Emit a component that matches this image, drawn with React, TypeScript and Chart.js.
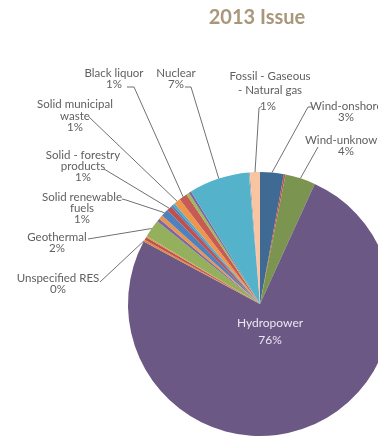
import React, { useEffect, useRef } from "react";
import { Chart, registerables } from "chart.js";

Chart.register(...registerables);

const TITLE = "2013 Issue";

const categories = [
  "Wind-onshore",
  "Wind-offshore",
  "Wind-unknown",
  "Hydropower",
  "Unspecified RES",
  "Biogas",
  "Solar",
  "Geothermal",
  "Tide",
  "Solid - agricultural",
  "Solid renewable fuels",
  "Solid - forestry products",
  "Liquid renewable fuels",
  "Landfill gas",
  "Solid municipal waste",
  "Black liquor",
  "Sewage gas",
  "Marine",
  "Nuclear",
  "Fossil - other",
  "Fossil - Gaseous - Natural gas",
];

const shares = [
  2.9, 0.2, 3.7, 76.0, 0.25, 0.35, 0.15, 2.2, 0.4, 0.5, 0.9, 0.65, 0.25, 0.3,
  0.8, 1.0, 0.35, 0.3, 7.4, 0.15, 1.2,
];

const colors = [
  "#3e6a94",
  "#c0504d",
  "#7b9550",
  "#6c5885",
  "#d98a47",
  "#c0504d",
  "#e0904a",
  "#94b05c",
  "#7e65a3",
  "#e8954f",
  "#4f81bd",
  "#c0504d",
  "#4f81bd",
  "#4bacc6",
  "#f0954c",
  "#c65a55",
  "#9bbb59",
  "#8064a2",
  "#55b2cb",
  "#a8a8a8",
  "#f8c4a2",
];

// label layout (text positions and leader-line start points)
type TL = [string, number, number, CanvasTextAlign];
const labelLayout: { name: string; lines: TL[]; path: number[][]; inside?: boolean }[] = [
  { name: "Black liquor", lines: [["Black liquor", 114, 73, "center"], ["%", 114, 84, "center"]], path: [[127, 87], [134, 87]] },
  { name: "Nuclear", lines: [["Nuclear", 176, 73, "center"], ["%", 176, 84, "center"]], path: [[185, 87], [191, 87]] },
  { name: "Fossil - Gaseous - Natural gas", lines: [["Fossil - Gaseous", 270, 76, "center"], ["- Natural gas", 270, 90, "center"], ["%", 268, 106, "center"]], path: [[262, 106], [259, 108]] },
  { name: "Wind-onshore", lines: [["Wind-onshore", 310, 106, "left"], ["%", 346, 117, "center"]], path: [[312, 107], [308, 107]] },
  { name: "Wind-unknown", lines: [["Wind-unknown", 305, 140, "left"], ["%", 346, 151, "center"]], path: [[318, 147]] },
  { name: "Solid municipal waste", lines: [["Solid municipal", 75, 104, "center"], ["waste", 75, 116, "center"], ["%", 75, 127, "center"]], path: [[89, 117]] },
  { name: "Solid - forestry products", lines: [["Solid - forestry", 83, 155, "center"], ["products", 83, 166, "center"], ["%", 83, 177, "center"]], path: [[104, 169]] },
  { name: "Solid renewable fuels", lines: [["Solid renewable", 82, 197, "center"], ["fuels", 82, 208, "center"], ["%", 82, 219, "center"]], path: [[122, 199], [126, 200]] },
  { name: "Geothermal", lines: [["Geothermal", 57, 237, "center"], ["%", 57, 248, "center"]], path: [[88, 239]] },
  { name: "Unspecified RES", lines: [["Unspecified RES", 58, 278, "center"], ["%", 58, 289, "center"]], path: [[100, 282]] },
  { name: "Hydropower", lines: [["Hydropower", 270, 323, "center"], ["%", 270, 340, "center"]], path: [], inside: true },
];

const FONT = "Lato, 'Open Sans', sans-serif";

const labelPlugin = {
  id: "pieLabels",
  afterDatasetsDraw(chart: any) {
    const ctx: CanvasRenderingContext2D = chart.ctx;
    const meta = chart.getDatasetMeta(0);
    const total = shares.reduce((a, b) => a + b, 0);
    ctx.save();
    // title
    ctx.font = `bold 20px ${FONT}`;
    ctx.fillStyle = "#a8977b";
    ctx.textAlign = "center";
    ctx.textBaseline = "middle";
    ctx.fillText(TITLE, 257, 18);

    labelLayout.forEach((lab) => {
      const idx = categories.indexOf(lab.name);
      const arc = meta.data[idx];
      const { x, y, startAngle, endAngle, outerRadius } = arc.getProps(
        ["x", "y", "startAngle", "endAngle", "outerRadius"],
        true
      );
      const mid = (startAngle + endAngle) / 2;
      const pct = Math.round((shares[idx] / total) * 100) + "%";
      if (!lab.inside) {
        const px = x + Math.cos(mid) * outerRadius;
        const py = y + Math.sin(mid) * outerRadius;
        ctx.strokeStyle = "#707070";
        ctx.lineWidth = 1;
        ctx.beginPath();
        lab.path.forEach((p, k) => (k === 0 ? ctx.moveTo(p[0], p[1]) : ctx.lineTo(p[0], p[1])));
        ctx.lineTo(px, py);
        ctx.stroke();
        ctx.font = `11.5px ${FONT}`;
        ctx.fillStyle = "#606060";
      } else {
        ctx.font = `12px ${FONT}`;
        ctx.fillStyle = "#ece6f0";
      }
      ctx.textBaseline = "middle";
      lab.lines.forEach(([t, tx, ty, al]) => {
        ctx.textAlign = al;
        ctx.fillText(t === "%" ? pct : t, tx, ty);
      });
    });
    ctx.restore();
  },
};

export default function App() {
  const ref = useRef<HTMLCanvasElement | null>(null);
  useEffect(() => {
    if (!ref.current) return;
    const chart = new Chart(ref.current, {
      type: "pie",
      data: {
        labels: categories,
        datasets: [
          {
            data: shares,
            backgroundColor: colors,
            borderWidth: 0,
          },
        ],
      },
      options: {
        animation: false,
        responsive: false,
        maintainAspectRatio: false,
        layout: { padding: { left: 128, right: 128, top: 172, bottom: 172 } },
        plugins: {
          legend: { display: false },
          tooltip: { enabled: false },
          title: { display: false },
        },
      },
      plugins: [labelPlugin],
    });
    return () => chart.destroy();
  }, []);
  return (
    <div
      style={{
        position: "fixed",
        left: 0,
        top: 0,
        width: 378,
        height: 438,
        overflow: "hidden",
        background: "#ffffff",
      }}
    >
      <canvas ref={ref} width={520} height={608} style={{ width: 520, height: 608, display: "block" }} />
    </div>
  );
}
